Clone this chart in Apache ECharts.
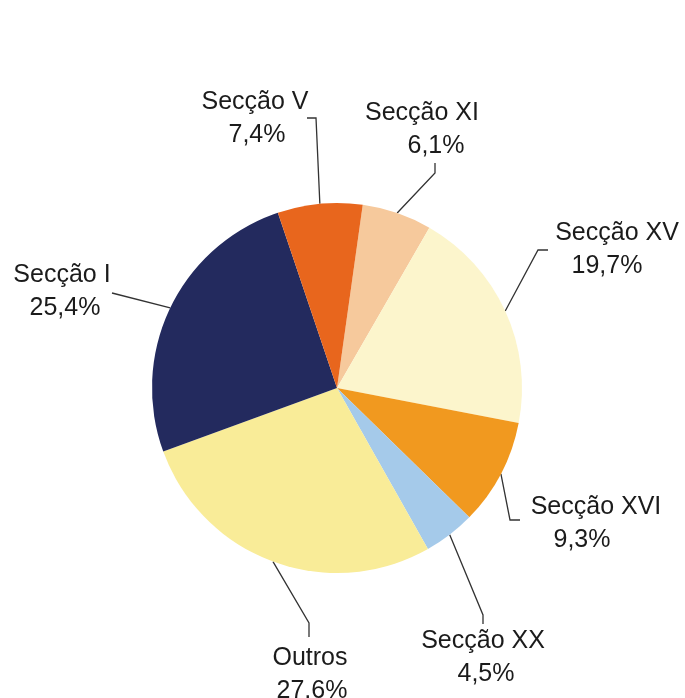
<!DOCTYPE html>
<html>
<head>
<meta charset="utf-8">
<script src="https://cdn.jsdelivr.net/npm/echarts@6/dist/echarts.min.js"></script>
<style>
  html, body { margin: 0; padding: 0; background: #fff; }
  #chart { width: 685px; height: 698px; }
</style>
</head>
<body>
<div id="chart"></div>
<script>
// dados (ordem no sentido horário a partir do topo)
const categories = ['Secção XI', 'Secção XV', 'Secção XVI', 'Secção XX', 'Outros', 'Secção I', 'Secção V']
const shares = [6.1, 19.7, 9.3, 4.5, 27.6, 25.4, 7.4]
const colors = ['#f6c99c', '#fcf5cc', '#f1991f', '#a5caea', '#f9ec98', '#232a5e', '#e8661d']

// posição dos rótulos e das linhas guia (px)
const labelPos = [[422, 130], [617, 250], [596, 524], [483, 658], [310, 675], [62, 292], [255, 119]]
const secondLineShift = [14, -10, -14, 3, 2, 3, 2]
const guideBends = [
    [[435, 173], [435, 163]],
    [[538, 250], [548, 250]],
    [[510, 520], [520, 520]],
    [[483, 615], [483, 624]],
    [[309, 623], [309, 637]],
    [[112, 293], [112, 293]],
    [[316, 118], [307, 118]]
]

const dom = echarts.init(document.getElementById('chart'))

const data = categories.map((name, i) => {
    const s = secondLineShift[i] * 2
    return {
        name: name,
        value: shares[i],
        itemStyle: { color: colors[i] },
        label: {
            rich: {
                v: {
                    fontSize: 25,
                    lineHeight: 33,
                    color: '#1b1b1b',
                    fontFamily: 'Liberation Sans, Arial, sans-serif',
                    padding: [0, Math.max(0, -s), 0, Math.max(0, s)]
                }
            }
        }
    }
})

const option = {
    animation: false,
    backgroundColor: '#ffffff',
    series: [
        {
            type: 'pie',
            center: [337, 388],
            radius: 185,
            startAngle: 82,
            clockwise: true,
            data: data,
            itemStyle: { borderWidth: 0 },
            emphasis: { disabled: true },
            label: {
                show: true,
                position: 'outside',
                fontSize: 25,
                lineHeight: 33,
                color: '#1b1b1b',
                fontFamily: 'Liberation Sans, Arial, sans-serif',
                align: 'center',
                formatter: p => p.name + '\n{v|' + p.value.toFixed(1).replace('.', ',') + '%}'
            },
            labelLine: {
                show: true,
                length: 20,
                length2: 10,
                lineStyle: { color: '#333', width: 1.3 }
            },
            labelLayout: function (params) {
                const i = params.dataIndex
                const start = params.labelLinePoints ? params.labelLinePoints[0] : guideBends[i][0]
                return {
                    x: labelPos[i][0],
                    y: labelPos[i][1],
                    align: 'center',
                    verticalAlign: 'middle',
                    labelLinePoints: [start, guideBends[i][0], guideBends[i][1]]
                }
            }
        }
    ]
}

dom.setOption(option)
</script>
</body>
</html>
